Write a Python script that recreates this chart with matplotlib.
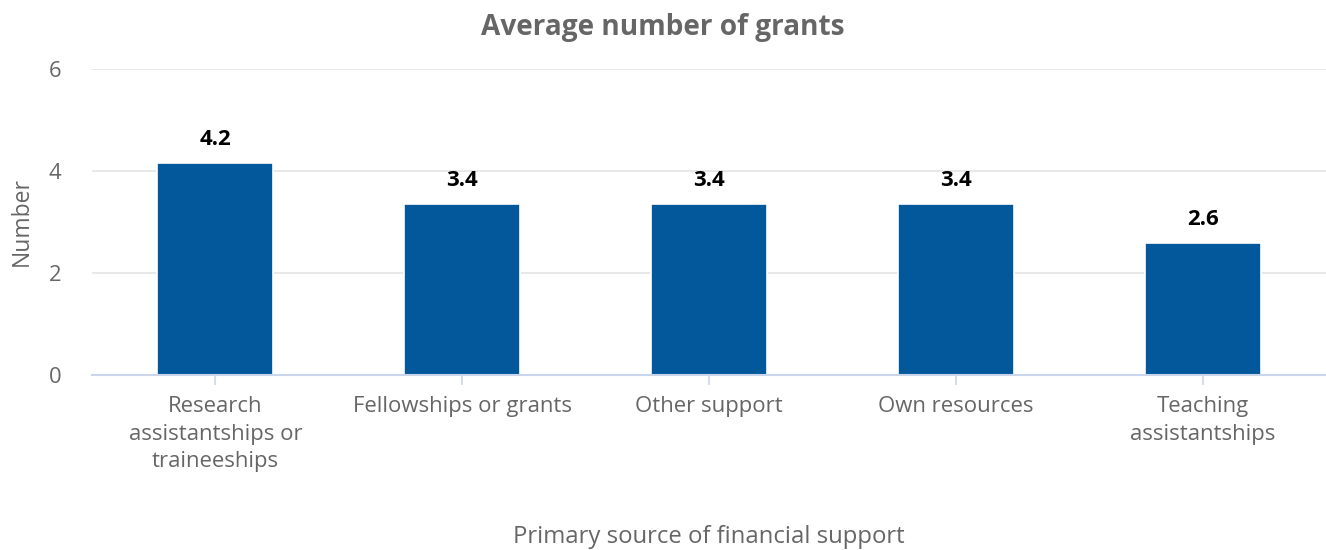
import matplotlib.pyplot as plt

plt.rcParams['font.family'] = ['Open Sans', 'DejaVu Sans']

# data
categories = ['Research\nassistantships or\ntraineeships', 'Fellowships or grants',
              'Other support', 'Own resources', 'Teaching\nassistantships']
values = [4.16, 3.36, 3.36, 3.36, 2.58]
yticks = [0, 2, 4, 6]

W, H = 1326, 550
fig = plt.figure(figsize=(W / 100, H / 100), dpi=100)
ax = fig.add_axes([92 / W, 1 - 375 / H, 1 - 92 / W, (375 - 69) / H])

x = range(len(categories))
bars = ax.bar(x, values, width=0.47, color='#02589b', edgecolor='white',
              linewidth=1.2, zorder=3)

for xi, v in zip(x, values):
    ax.annotate(f'{v:.1f}', (xi, v), xytext=(0, 17), textcoords='offset points',
                ha='center', va='center', fontsize=16, fontweight='bold',
                color='black')

ax.set_xlim(-0.5, len(categories) - 0.5)
ax.set_ylim(0, 6)
ax.set_yticks(yticks)
ax.set_xticks(list(x))
ax.set_xticklabels(categories, linespacing=1.42)

ax.grid(axis='y', color='#e6e6e6', linewidth=1.3, zorder=0)
ax.set_axisbelow(True)
for side in ['top', 'right', 'left']:
    ax.spines[side].set_visible(False)
ax.spines['bottom'].set_color('#ccd6eb')
ax.spines['bottom'].set_linewidth(1.5)
ax.spines['bottom'].set_zorder(4)

ax.tick_params(axis='y', length=0, pad=22, labelsize=15.8, labelcolor='#666666')
ax.tick_params(axis='x', length=7, width=1.2, color='#ccd6eb', pad=8,
               labelsize=15.9, labelcolor='#666666')

ax.set_ylabel('Number', fontsize=16.5, color='#666666')
ax.yaxis.set_label_coords((22 - 92) / (W - 92), 0.5)
ax.yaxis.label.set_va('center')
fig.text((92 + W) / 2 / W, 1 - 537 / H, 'Primary source of financial support',
         ha='center', va='center', fontsize=17.2, color='#666666')
fig.text(0.5, 1 - 27 / H, 'Average number of grants', ha='center',
         va='center', fontsize=20.2, fontweight='bold', color='#666666')

fig.savefig('out.png', dpi=100)
